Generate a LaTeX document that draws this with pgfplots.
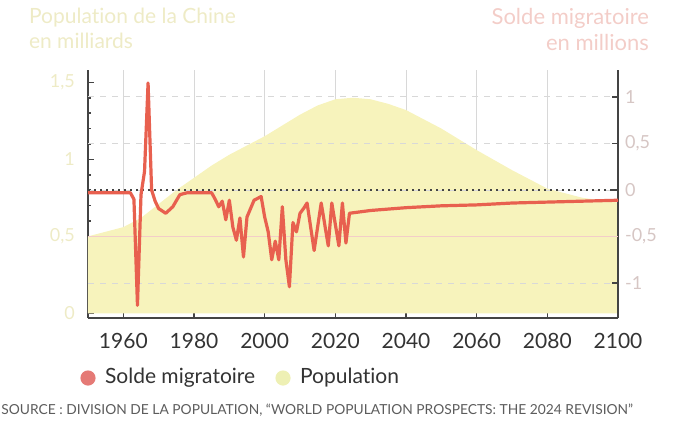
\documentclass[border=0pt]{standalone}
\usepackage{fontspec}
\setmainfont{Lato}[Ligatures={NoCommon}]
\usepackage{pgfplots}
\pgfplotsset{compat=1.18}
\definecolor{popfill}{HTML}{F7F3BC}
\definecolor{popdot}{HTML}{EEF0B4}
\definecolor{migred}{HTML}{E8604F}
\definecolor{migdot}{HTML}{E57A76}
\definecolor{axgray}{HTML}{444444}
\definecolor{txt}{HTML}{333333}
\definecolor{lefttxt}{HTML}{EEEBC6}
\definecolor{righttxt}{HTML}{F3CDC8}
\definecolor{gridgray}{HTML}{D8D8D8}

\pgfplotstableread{
year pop
1950 0.50
1955 0.53
1960 0.56
1965 0.62
1970 0.71
1975 0.80
1980 0.88
1985 0.96
1990 1.03
1995 1.09
2000 1.15
2005 1.22
2010 1.29
2015 1.35
2020 1.39
2025 1.40
2030 1.39
2035 1.36
2040 1.32
2050 1.20
2060 1.06
2070 0.93
2080 0.81
2090 0.75
2100 0.72
}\poptable

\pgfplotstableread{
year mig
1950 -0.03
1962 -0.03
1963 -0.10
1964 -1.24
1965 -0.05
1966 0.20
1967 1.15
1968 0.00
1969 -0.12
1970 -0.20
1972 -0.25
1974 -0.18
1976 -0.05
1978 -0.03
1985 -0.03
1986 -0.10
1987 -0.18
1988 -0.12
1989 -0.32
1990 -0.11
1991 -0.40
1992 -0.54
1993 -0.30
1994 -0.72
1995 -0.29
1997 -0.11
1999 -0.07
2000 -0.29
2001 -0.45
2002 -0.75
2003 -0.55
2004 -0.75
2005 -0.18
2006 -0.75
2007 -1.04
2008 -0.35
2009 -0.45
2010 -0.25
2011 -0.20
2012 -0.14
2014 -0.65
2016 -0.14
2018 -0.60
2019 -0.14
2021 -0.60
2022 -0.14
2023 -0.57
2024 -0.25
2030 -0.22
2040 -0.19
2050 -0.17
2060 -0.16
2070 -0.14
2080 -0.13
2090 -0.12
2100 -0.11
}\migtable

\begin{document}
\begin{tikzpicture}[x=1pt,y=1pt]
\useasboundingbox (0,0) rectangle (342.5,210);
\begin{axis}[
  at={(44pt,51pt)}, anchor=south west, scale only axis,
  width=265pt, height=124pt,
  xmin=1950, xmax=2100, ymin=-0.03, ymax=1.58,
  axis y line*=left, axis x line*=bottom,
  axis line style={axgray, line width=0.9pt},
  xtick={1960,1980,...,2100},
  xticklabel style={font=\fontsize{10.5}{12}\selectfont, text=txt, yshift=-4pt},
  /pgf/number format/assume math mode=true,
  /pgf/number format/1000 sep={},
  ytick={0,0.5,1,1.5},
  yticklabels={0,{0,5},1,{1,5}},
  yticklabel style={font=\fontsize{9}{11}\selectfont, text=lefttxt, xshift=-3pt},
  minor y tick num=4,
  tick style={axgray, line width=0.8pt},
  major tick length=3pt, minor tick length=1.5pt,
  xmajorgrids, grid style={gridgray, line width=0.5pt},
  clip=false,
]
\addplot[fill=popfill, draw=none] table[x=year, y=pop] {\poptable} \closedcycle;
\end{axis}
\begin{axis}[
  at={(44pt,51pt)}, anchor=south west, scale only axis,
  width=265pt, height=124pt,
  xmin=1950, xmax=2100, ymin=-1.376, ymax=1.29,
  axis y line*=right, axis x line=none,
  axis line style={axgray, line width=0.9pt},
  ytick={-1,-0.5,0,0.5,1},
  yticklabels={-1,{-0,5},0,{0,5},1},
  yticklabel style={font=\fontsize{9}{11}\selectfont, text=righttxt!60!gray!70},
  tick style={axgray, line width=0.8pt},
  major tick length=3pt,
  ymajorgrids, grid style={gridgray, dashed, line width=0.5pt},
]
\addplot[righttxt, line width=0.6pt, forget plot] coordinates {(1950,-0.5) (2100,-0.5)};
\addplot[axgray, dotted, line width=1pt, forget plot] coordinates {(1950,0) (2100,0)};
\addplot[migred, line width=1.6pt, line join=round] table[x=year, y=mig] {\migtable};
\end{axis}
\node[anchor=north west, align=left, text=lefttxt, font=\fontsize{10.5}{12.5}\selectfont] at (11,209.5) {Population de la Chine\\en milliards};
\node[anchor=north east, align=right, text=righttxt, font=\fontsize{11}{13}\selectfont] at (328,209.5) {Solde migratoire\\en millions};
\fill[migdot] (44,21) circle (3.8);
\node[anchor=west, text=txt, font=\fontsize{10.5}{12}\selectfont] at (49,21) {Solde migratoire};
\fill[popdot] (141.5,21) circle (3.8);
\node[anchor=west, text=txt, font=\fontsize{10.5}{12}\selectfont] at (146.5,21) {Population};
\node[anchor=east, text=txt!80, font=\fontsize{6.9}{8}\selectfont] at (320,5) {SOURCE : DIVISION DE LA POPULATION, “WORLD POPULATION PROSPECTS: THE 2024 REVISION”};
\end{tikzpicture}
\end{document}
